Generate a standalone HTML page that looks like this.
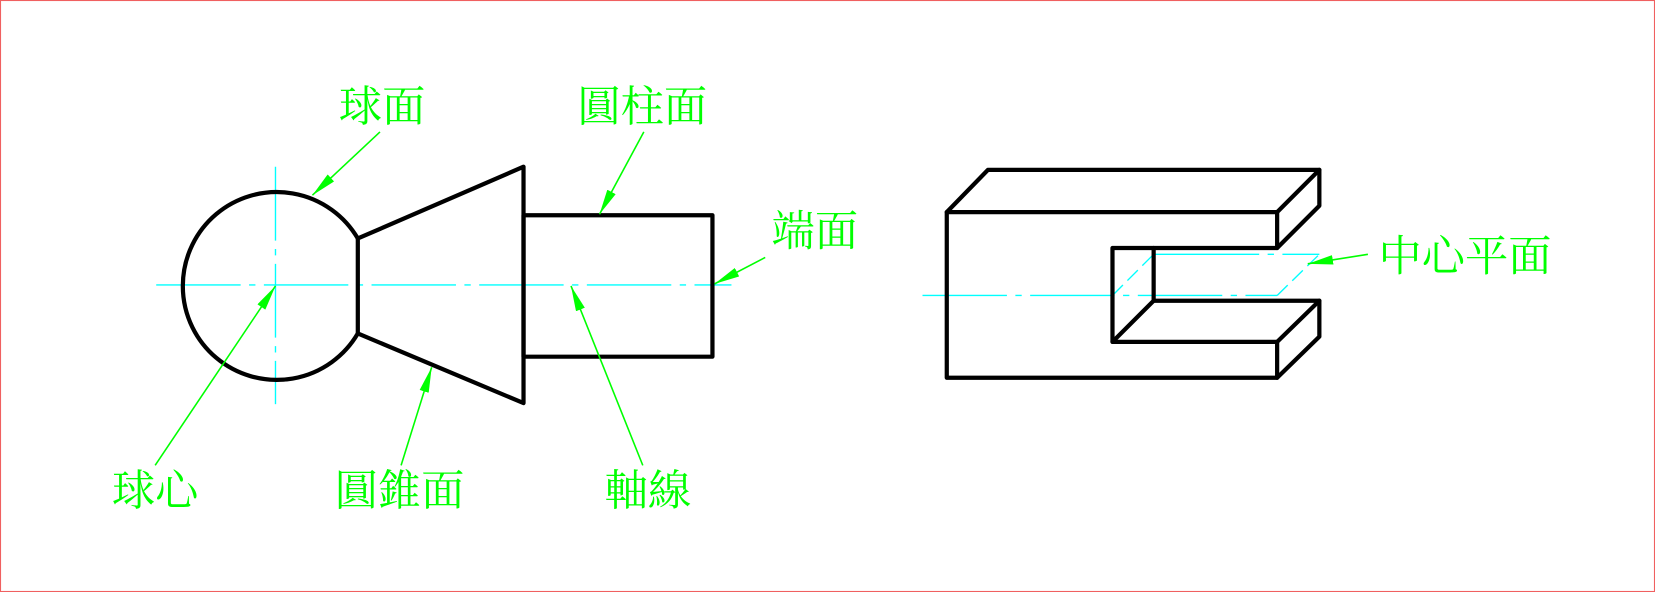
<!DOCTYPE html>
<html><head><meta charset="utf-8"><style>
html,body{margin:0;padding:0;background:#fff;}
svg{display:block;}
text{font-family:"Liberation Serif","Noto Serif CJK SC","Noto Sans CJK TC",serif;font-size:41px;fill:#00ff00;}
</style></head><body>
<svg width="1655" height="592" viewBox="0 0 1568 561" preserveAspectRatio="none" xmlns="http://www.w3.org/2000/svg">
<defs>
<marker id="a" viewBox="0 0 24 9" refX="24" refY="4.5" markerWidth="24" markerHeight="9" markerUnits="userSpaceOnUse" orient="auto" preserveAspectRatio="none">
<path d="M0,0 L24,4.5 L0,9 z" fill="#00ff00"/></marker>
</defs>
<rect x="0.5" y="0.5" width="1567" height="560" fill="none" stroke="#f06060" stroke-width="1"/>
<g stroke="#00ffff" stroke-width="1.3" fill="none">
<line x1="148" y1="270" x2="693" y2="270" stroke-dasharray="80,8,6,8"/>
<line x1="261" y1="158" x2="261" y2="383" stroke-dasharray="70,8,6,8"/>
<line x1="874" y1="280" x2="1210" y2="280" stroke-dasharray="80,8,6,8"/>
<line x1="1093" y1="241" x2="1250" y2="241" stroke-dasharray="100,8,6,8"/>
<line x1="1054" y1="280" x2="1093" y2="241" stroke-dasharray="14,6"/>
<line x1="1210" y1="280" x2="1250" y2="241" stroke-dasharray="14,6"/>
</g>
<g stroke="#000" stroke-width="4" fill="none" stroke-linejoin="round" stroke-linecap="round">
<path d="M339,226 A89,89 0 1 0 339,316 Z"/>
<path d="M339,226 L496,158 L496,382 L339,316"/>
<rect x="496" y="204" width="179" height="134"/>
<path d="M897,201 L1210,201 L1210,235 L1054,235 L1054,324 L1210,324 L1210,358 L897,358 Z"/>
<path d="M897,201 L936,161 L1250,161 L1210,201"/>
<path d="M1250,161 L1250,195 L1210,235"/>
<path d="M1093,235 L1093,285 L1250,285 L1250,319 L1210,358"/>
<path d="M1054,324 L1093,285"/>
<path d="M1210,324 L1250,285"/>
</g>
<g stroke="#00ff00" stroke-width="1.5" fill="none">
<line x1="360" y1="125" x2="296" y2="185" marker-end="url(#a)"/>
<line x1="610" y1="125" x2="568" y2="203" marker-end="url(#a)"/>
<line x1="725" y1="244" x2="677" y2="269" marker-end="url(#a)"/>
<line x1="147" y1="441" x2="261" y2="271" marker-end="url(#a)"/>
<line x1="380" y1="441" x2="409" y2="348" marker-end="url(#a)"/>
<line x1="609" y1="441" x2="541" y2="271" marker-end="url(#a)"/>
<line x1="1296" y1="241" x2="1239" y2="250" marker-end="url(#a)"/>
</g>
<text x="321" y="115">球面</text>
<text x="547" y="115">圓柱面</text>
<text x="731" y="233">端面</text>
<text x="106" y="479">球心</text>
<text x="317" y="479">圓錐面</text>
<text x="573" y="479">軸線</text>
<text x="1306" y="257">中心平面</text>
</svg>
</body></html>
